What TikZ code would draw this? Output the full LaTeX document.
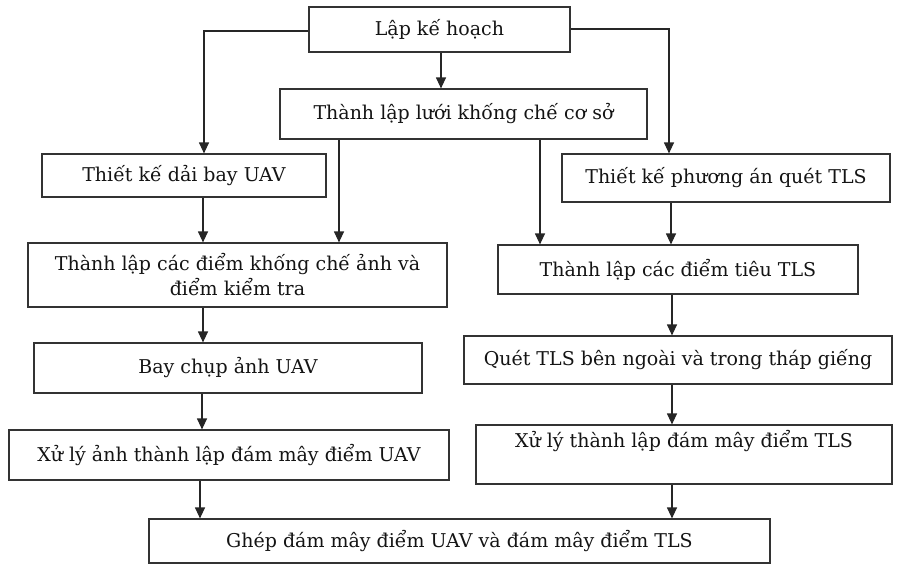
\documentclass[tikz,border=0pt]{standalone}
\usepackage{fontspec}
\setmainfont{DejaVu Serif}
\usetikzlibrary{arrows.meta}
\begin{document}
\begin{tikzpicture}[x=1pt,y=-1pt,
  box/.style={draw=black!80, line width=1.2pt, inner sep=0pt, text=black!92,
    font=\fontsize{19}{25}\selectfont, align=center},
  arr/.style={draw=black!85, line width=1.2pt, -{Triangle[length=11pt,width=10pt]}}]
\useasboundingbox (0,0) rectangle (897,565);
\fill[white] (0,0) rectangle (897,565);
% nodes
\node[box, minimum width=261pt, minimum height=45pt] (plan) at (439.5,29.5) {Lập kế hoạch};
\node[box, minimum width=367pt, minimum height=50pt] (grid) at (463.5,114) {Thành lập lưới khống chế cơ sở};
\node[box, minimum width=284pt, minimum height=43pt] (uav1) at (184,175.5) {Thiết kế dải bay UAV};
\node[box, minimum width=328pt, minimum height=48pt] (tls1) at (726,178) {Thiết kế phương án quét TLS};
\node[box, minimum width=419pt, minimum height=64pt] (uav2) at (237.5,275) {Thành lập các điểm khống chế ảnh và\\điểm kiểm tra};
\node[box, minimum width=360pt, minimum height=49pt] (tls2) at (678,269.5) {Thành lập các điểm tiêu TLS};
\node[box, minimum width=388pt, minimum height=50pt] (uav3) at (228,368) {Bay chụp ảnh UAV};
\node[box, minimum width=428pt, minimum height=48pt] (tls3) at (678,360) {Quét TLS bên ngoài và trong tháp giếng};
\node[box, minimum width=440pt, minimum height=50pt] (uav4) at (229,455) {Xử lý ảnh thành lập đám mây điểm UAV};
\node[box, minimum width=416pt, minimum height=59pt, text height=14pt, text depth=28pt] (tls4) at (684,454.5) {Xử lý thành lập đám mây điểm TLS};
\node[box, minimum width=621pt, minimum height=44pt] (merge) at (459.5,541) {Ghép đám mây điểm UAV và đám mây điểm TLS};
% x positions of connectors
\coordinate (xL) at (204,0);
\coordinate (xR) at (669,0);
\coordinate (xP) at (441,0);
\coordinate (xG1) at (339,0);
\coordinate (xG2) at (540,0);
\coordinate (xU) at (203,0);
\coordinate (xU3) at (202,0);
\coordinate (xU4) at (200,0);
\coordinate (xT) at (671,0);
\coordinate (xT2) at (672,0);
% connectors
\draw[arr] ([yshift=-1.5pt]plan.west) -| (uav1.north -| xL);
\draw[arr] ([yshift=0.5pt]plan.east) -| (tls1.north -| xR);
\draw[arr] (plan.south -| xP) -- (grid.north -| xP);
\draw[arr] (grid.south -| xG1) -- (uav2.north -| xG1);
\draw[arr] (grid.south -| xG2) -- (tls2.north -| xG2);
\draw[arr] (uav1.south -| xU) -- (uav2.north -| xU);
\draw[arr] (tls1.south -| xT) -- (tls2.north -| xT);
\draw[arr] (uav2.south -| xU) -- (uav3.north -| xU);
\draw[arr] (uav3.south -| xU3) -- (uav4.north -| xU3);
\draw[arr] (uav4.south -| xU4) -- (merge.north -| xU4);
\draw[arr] (tls2.south -| xT2) -- (tls3.north -| xT2);
\draw[arr] (tls3.south -| xT2) -- (tls4.north -| xT2);
\draw[arr] (tls4.south -| xT2) -- (merge.north -| xT2);
\end{tikzpicture}
\end{document}
